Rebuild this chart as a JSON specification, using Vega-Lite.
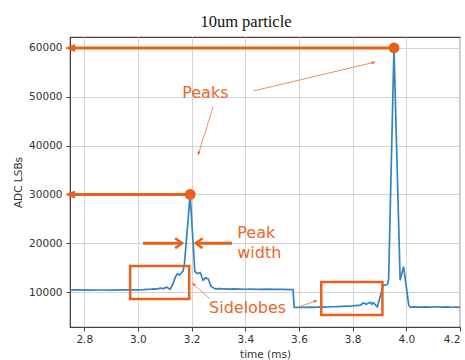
{
  "$schema": "https://vega.github.io/schema/vega-lite/v6.json",
  "width": 390,
  "height": 290,
  "autosize": {"type": "none"},
  "padding": {"left": 70, "top": 37, "right": 5, "bottom": 33},
  "background": "white",
  "title": {
    "text": "10um particle",
    "font": "Liberation Serif",
    "fontSize": 16.5,
    "fontWeight": "normal",
    "color": "#111",
    "anchor": "middle",
    "baseline": "alphabetic",
    "offset": -6,
    "dx": -19
  },
  "config": {
    "view": {"stroke": "#444", "strokeWidth": 1.2},
    "axis": {
      "labelFont": "DejaVu Sans",
      "labelFontSize": 10.5,
      "labelColor": "#333",
      "titleFont": "DejaVu Sans",
      "titleFontSize": 10.5,
      "titleFontWeight": "normal",
      "titleColor": "#333",
      "gridColor": "#d4d4d4",
      "gridWidth": 1,
      "tickColor": "#444",
      "tickSize": 4,
      "domainColor": "#444"
    }
  },
  "datasets": {
    "signal": [
      {"t": 2.747, "v": 10400}, {"t": 2.78, "v": 10420}, {"t": 2.82, "v": 10400}, {"t": 2.86, "v": 10410},
      {"t": 2.9, "v": 10400}, {"t": 2.94, "v": 10420}, {"t": 2.98, "v": 10430}, {"t": 3.0, "v": 10450},
      {"t": 3.02, "v": 10480}, {"t": 3.034, "v": 10550}, {"t": 3.05, "v": 10600}, {"t": 3.06, "v": 10650},
      {"t": 3.07, "v": 10600}, {"t": 3.083, "v": 10800}, {"t": 3.095, "v": 10700}, {"t": 3.103, "v": 10900},
      {"t": 3.109, "v": 11000}, {"t": 3.115, "v": 10700}, {"t": 3.12, "v": 10550}, {"t": 3.13, "v": 11600},
      {"t": 3.139, "v": 13000}, {"t": 3.147, "v": 13700}, {"t": 3.155, "v": 13500}, {"t": 3.162, "v": 13900},
      {"t": 3.168, "v": 14300}, {"t": 3.173, "v": 15500}, {"t": 3.1946, "v": 30000}, {"t": 3.212, "v": 14200},
      {"t": 3.222, "v": 13800}, {"t": 3.232, "v": 14000}, {"t": 3.243, "v": 12400}, {"t": 3.252, "v": 12900},
      {"t": 3.262, "v": 12700}, {"t": 3.272, "v": 11200}, {"t": 3.282, "v": 10800}, {"t": 3.29, "v": 10650},
      {"t": 3.3, "v": 10700}, {"t": 3.32, "v": 10650}, {"t": 3.34, "v": 10600}, {"t": 3.36, "v": 10650},
      {"t": 3.38, "v": 10600}, {"t": 3.4, "v": 10560}, {"t": 3.42, "v": 10600}, {"t": 3.45, "v": 10550},
      {"t": 3.48, "v": 10580}, {"t": 3.51, "v": 10520}, {"t": 3.54, "v": 10550}, {"t": 3.57, "v": 10500},
      {"t": 3.578, "v": 10500}, {"t": 3.582, "v": 6900}, {"t": 3.59, "v": 6850}, {"t": 3.6, "v": 6880},
      {"t": 3.62, "v": 6850}, {"t": 3.64, "v": 6900}, {"t": 3.66, "v": 6870}, {"t": 3.68, "v": 6950},
      {"t": 3.7, "v": 6900}, {"t": 3.72, "v": 6980}, {"t": 3.74, "v": 7000}, {"t": 3.76, "v": 7050},
      {"t": 3.78, "v": 7100}, {"t": 3.8, "v": 7150}, {"t": 3.82, "v": 7250}, {"t": 3.829, "v": 7300},
      {"t": 3.84, "v": 7800}, {"t": 3.85, "v": 7500}, {"t": 3.858, "v": 7700}, {"t": 3.866, "v": 7900},
      {"t": 3.872, "v": 7500}, {"t": 3.877, "v": 7800}, {"t": 3.884, "v": 7400}, {"t": 3.892, "v": 6950},
      {"t": 3.903, "v": 9200}, {"t": 3.914, "v": 11400}, {"t": 3.922, "v": 11400}, {"t": 3.93, "v": 11600},
      {"t": 3.934, "v": 12500}, {"t": 3.954, "v": 60000}, {"t": 3.977, "v": 12400}, {"t": 3.99, "v": 15200},
      {"t": 4.009, "v": 7300}, {"t": 4.015, "v": 6850}, {"t": 4.03, "v": 6950}, {"t": 4.05, "v": 6900},
      {"t": 4.07, "v": 6950}, {"t": 4.09, "v": 6900}, {"t": 4.11, "v": 6980}, {"t": 4.13, "v": 6900},
      {"t": 4.15, "v": 6950}, {"t": 4.17, "v": 6880}, {"t": 4.19, "v": 6900}, {"t": 4.2, "v": 6850}
    ],
    "boxes": [
      {"t": 2.971, "t2": 3.191, "v": 15330, "v2": 8566},
      {"t": 3.683, "t2": 3.911, "v": 12050, "v2": 5287}
    ],
    "thick": [
      {"t": 2.75, "t2": 3.954, "v": 60000, "v2": 60000},
      {"t": 2.75, "t2": 3.1946, "v": 30000, "v2": 30000},
      {"t": 3.019, "t2": 3.163, "v": 20000, "v2": 20000},
      {"t": 3.217, "t2": 3.351, "v": 20000, "v2": 20000}
    ],
    "axisHeads": [
      {"t": 2.747, "v": 60000},
      {"t": 2.747, "v": 30000}
    ],
    "widthHeadRight": [{"t": 3.165, "v": 20000}],
    "widthHeadLeft": [{"t": 3.215, "v": 20000}],
    "peaks": [
      {"t": 3.954, "v": 60000},
      {"t": 3.1946, "v": 30000}
    ],
    "thin": [
      {"t": 3.4296, "t2": 3.8846, "v": 51185, "v2": 57127},
      {"t": 3.28, "t2": 3.224, "v": 47906, "v2": 38071},
      {"t": 3.269, "t2": 3.202, "v": 8566, "v2": 11844},
      {"t": 3.594, "t2": 3.668, "v": 6824, "v2": 8258}
    ],
    "headA": [{"t": 3.8846, "v": 57127}],
    "headB": [{"t": 3.224, "v": 38071}],
    "headC": [{"t": 3.202, "v": 11844}],
    "headD": [{"t": 3.668, "v": 8258}],
    "labels": [
      {"t": 3.165, "v": 49751, "label": "Peaks"},
      {"t": 3.37, "v": 21065, "label": "Peak"},
      {"t": 3.37, "v": 16967, "label": "width"},
      {"t": 3.265, "v": 5697, "label": "Sidelobes"}
    ]
  },
  "encoding": {
    "x": {
      "field": "t",
      "type": "quantitative",
      "scale": {"domain": [2.747, 4.2], "nice": false, "zero": false},
      "axis": {
        "title": "time (ms)",
        "values": [2.8, 3.0, 3.2, 3.4, 3.6, 3.8, 4.0, 4.2],
        "format": ".1f",
        "labelPadding": 3,
        "titlePadding": 5
      }
    },
    "y": {
      "field": "v",
      "type": "quantitative",
      "scale": {"domain": [2830, 62250], "nice": false, "zero": false},
      "axis": {
        "title": "ADC LSBs",
        "values": [10000, 20000, 30000, 40000, 50000, 60000],
        "format": "d",
        "labelPadding": 4,
        "titlePadding": 5
      }
    }
  },
  "layer": [
    {
      "data": {"name": "signal"},
      "mark": {"type": "line", "color": "#3584c0", "strokeWidth": 1.7, "clip": true}
    },
    {
      "data": {"name": "boxes"},
      "mark": {"type": "rect", "fillOpacity": 0, "stroke": "#e8601c", "strokeWidth": 2.5},
      "encoding": {"x2": {"field": "t2"}, "y2": {"field": "v2"}}
    },
    {
      "data": {"name": "thick"},
      "mark": {"type": "rule", "color": "#e8601c", "strokeWidth": 3},
      "encoding": {"x2": {"field": "t2"}, "y2": {"field": "v2"}}
    },
    {
      "data": {"name": "axisHeads"},
      "mark": {"type": "point", "shape": "M-1,0L1,-0.8L1,0.8Z", "filled": true, "size": 100, "color": "#e8601c", "opacity": 1}
    },
    {
      "data": {"name": "widthHeadRight"},
      "mark": {"type": "point", "shape": "M-1,-0.7L0,0L-1,0.7", "filled": false, "size": 196, "color": "#e8601c", "strokeWidth": 2.5, "opacity": 1}
    },
    {
      "data": {"name": "widthHeadLeft"},
      "mark": {"type": "point", "shape": "M1,-0.7L0,0L1,0.7", "filled": false, "size": 196, "color": "#e8601c", "strokeWidth": 2.5, "opacity": 1}
    },
    {
      "data": {"name": "peaks"},
      "mark": {"type": "circle", "size": 120, "color": "#e8601c", "opacity": 1}
    },
    {
      "data": {"name": "thin"},
      "mark": {"type": "rule", "color": "#ec7a48", "strokeWidth": 1, "opacity": 0.85},
      "encoding": {"x2": {"field": "t2"}, "y2": {"field": "v2"}}
    },
    {
      "data": {"name": "headA"},
      "mark": {"type": "point", "shape": "M0,0L0.55,1.4L-0.55,1.4Z", "filled": true, "size": 28, "angle": 77, "color": "#e8601c", "opacity": 1}
    },
    {
      "data": {"name": "headB"},
      "mark": {"type": "point", "shape": "M0,0L0.55,1.4L-0.55,1.4Z", "filled": true, "size": 28, "angle": 197, "color": "#e8601c", "opacity": 1}
    },
    {
      "data": {"name": "headC"},
      "mark": {"type": "point", "shape": "M0,0L0.55,1.4L-0.55,1.4Z", "filled": true, "size": 28, "angle": 312, "color": "#e8601c", "opacity": 1}
    },
    {
      "data": {"name": "headD"},
      "mark": {"type": "point", "shape": "M0,0L0.55,1.4L-0.55,1.4Z", "filled": true, "size": 28, "angle": 71, "color": "#e8601c", "opacity": 1}
    },
    {
      "data": {"name": "labels"},
      "mark": {"type": "text", "align": "left", "baseline": "alphabetic", "font": "DejaVu Sans", "fontSize": 16, "color": "#e8672a"},
      "encoding": {"text": {"field": "label", "type": "nominal"}}
    }
  ]
}
